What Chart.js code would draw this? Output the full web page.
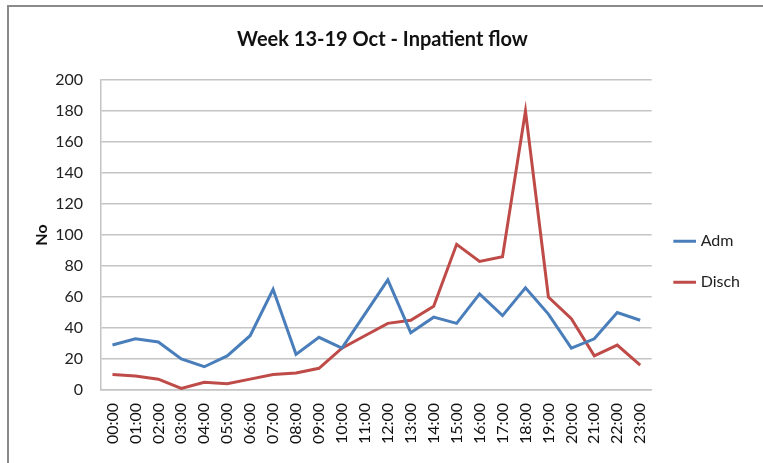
<!DOCTYPE html>
<html>
<head>
<meta charset="utf-8">
<script src="https://cdn.jsdelivr.net/npm/chart.js@4"></script>
<style>
    body { margin: 0; background: #fff; }
    #wrap { position: relative; width: 763px; height: 463px; }
    #frame { position: absolute; left: 7px; top: 5px; width: 800px; height: 500px;
             border-left: 2px solid #8a8a8a; border-top: 2px solid #8a8a8a; }
    #chart { position: absolute; left: 0; top: 0; }
</style>
</head>
<body>
<div id="wrap">
    <div id="frame"></div>
    <canvas id="chart" width="763" height="463"></canvas>
</div>
<script>
// Hours of the day
const hours = ['00:00', '01:00', '02:00', '03:00', '04:00', '05:00', '06:00', '07:00',
               '08:00', '09:00', '10:00', '11:00', '12:00', '13:00', '14:00', '15:00',
               '16:00', '17:00', '18:00', '19:00', '20:00', '21:00', '22:00', '23:00'];

// Admissions and discharges per hour
const admValues = [29, 33, 31, 20, 15, 22, 35, 65, 23, 34, 27, 49, 71, 37, 47, 43,
                   62, 48, 66, 49, 27, 33, 50, 45];
const dischValues = [10, 9, 7, 1, 5, 4, 7, 10, 11, 14, 27, 35, 43, 45, 54, 94,
                     83, 86, 180, 60, 46, 22, 29, 16];

const yTicks = [0, 20, 40, 60, 80, 100, 120, 140, 160, 180, 200];

const fontFamily = 'Lato, "Open Sans", sans-serif';
const gridColor = '#c4c4c4';

const ctx = document.getElementById('chart').getContext('2d');
new Chart(ctx, {
    type: 'line',
    data: {
        labels: hours,
        datasets: [
            {
                label: 'Adm',
                data: admValues,
                borderColor: '#4a7ebb',
                backgroundColor: '#4a7ebb',
                borderWidth: 3,
                pointRadius: 0,
                tension: 0
            },
            {
                label: 'Disch',
                data: dischValues,
                borderColor: '#be4b48',
                backgroundColor: '#be4b48',
                borderWidth: 3,
                pointRadius: 0,
                tension: 0
            }
        ]
    },
    options: {
        responsive: false,
        animation: false,
        layout: { padding: { left: 15, right: 13, top: 0, bottom: 0 } },
        scales: {
            x: {
                offset: true,
                grid: { display: false, drawTicks: false },
                border: { display: true, color: gridColor, width: 1.5 },
                ticks: {
                    color: '#111',
                    font: { family: fontFamily, size: 16 },
                    minRotation: 90,
                    maxRotation: 90,
                    autoSkip: false,
                    padding: 13
                },
                afterFit: function(scale) { scale.height = 73; }
            },
            y: {
                min: 0,
                max: 200,
                afterBuildTicks: function(scale) {
                    scale.ticks = yTicks.map(v => ({ value: v }));
                },
                grid: { color: gridColor, lineWidth: 1.5, drawTicks: false },
                border: { display: true, color: gridColor, width: 1.5 },
                ticks: {
                    color: '#222',
                    font: { family: fontFamily, size: 16 },
                    padding: 18
                },
                title: {
                    display: true,
                    text: 'No',
                    color: '#111',
                    font: { family: fontFamily, size: 16, weight: 'bold' },
                    padding: { top: 17, bottom: 0 }
                },
                afterFit: function(scale) { scale.width = 86; }
            }
        },
        plugins: {
            title: {
                display: true,
                text: 'Week 13-19 Oct - Inpatient flow',
                color: '#111',
                font: { family: fontFamily, size: 20, weight: 'bold' },
                padding: { top: 28, bottom: 28 }
            },
            legend: {
                position: 'right',
                // blank title only pushes the items down a little
                title: {
                    display: true,
                    text: ' ',
                    font: { size: 12 },
                    padding: { top: 46, bottom: 0 }
                },
                labels: {
                    usePointStyle: true,
                    pointStyle: 'line',
                    boxWidth: 37,
                    color: '#222',
                    font: { family: fontFamily, size: 16 },
                    padding: 25
                }
            },
            tooltip: { enabled: false }
        }
    }
});
</script>
</body>
</html>
